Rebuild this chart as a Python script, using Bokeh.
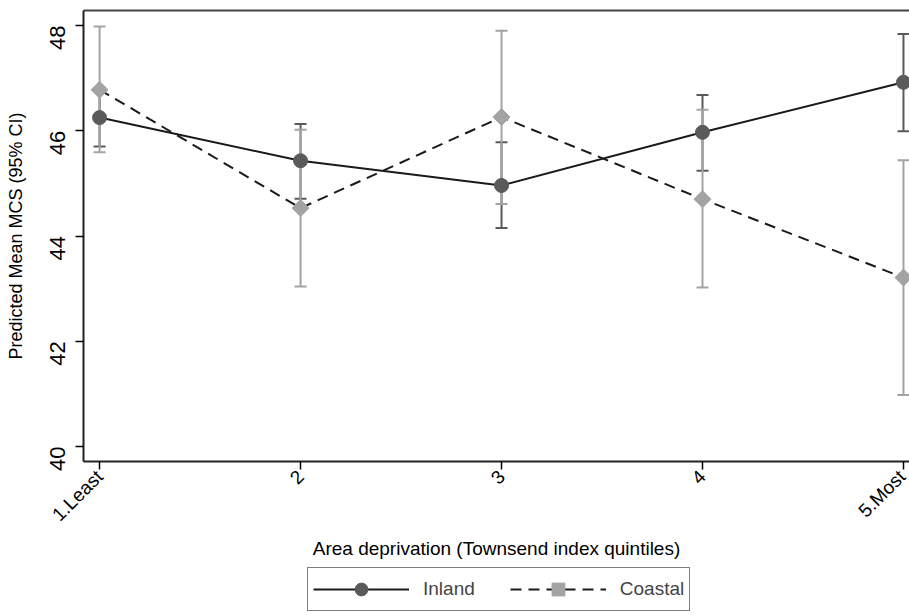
import math
from bokeh.plotting import figure
from bokeh.layouts import column
from bokeh.models import (ColumnDataSource, Whisker, TeeHead, FixedTicker, Range1d,
                          Legend, LegendItem, LinearAxis)
from bokeh.embed import file_html
from bokeh.resources import INLINE

quintiles = [1, 2, 3, 4, 5]
tick_labels = {1: "1.Least", 2: "2", 3: "3", 4: "4", 5: "5.Most"}

inland_mean = [46.25, 45.43, 44.96, 45.97, 46.92]
inland_lo = [45.70, 44.71, 44.15, 45.24, 45.99]
inland_hi = [46.80, 46.13, 45.78, 46.68, 47.84]

coastal_mean = [46.78, 44.53, 46.26, 44.70, 43.21]
coastal_lo = [45.59, 43.04, 44.61, 43.02, 40.98]
coastal_hi = [47.98, 46.02, 47.90, 46.40, 45.44]

series_names = ["Inland", "Coastal"]

FONT = "Liberation Sans"
DARK = "#5a5a5a"
LIGHT = "#a3a3a3"
LINE = "#1a1a1a"
DASH = "11 7"

src_in = ColumnDataSource(dict(x=quintiles, y=inland_mean, lo=inland_lo, hi=inland_hi))
src_co = ColumnDataSource(dict(x=quintiles, y=coastal_mean, lo=coastal_lo, hi=coastal_hi))

p = figure(frame_width=826, frame_height=451, output_backend="svg", toolbar_location=None,
           x_range=Range1d(0.92, 5.03), y_range=Range1d(39.715, 48.285),
           min_border_left=83, min_border_right=0, min_border_top=10, min_border_bottom=0)
p.outline_line_color = None
p.grid.visible = False
p.background_fill_color = "white"
p.border_fill_color = "white"

# CIs
for src, col in ((src_in, DARK), (src_co, LIGHT)):
    w = Whisker(source=src, base="x", lower="lo", upper="hi", line_color=col, line_width=2,
                upper_head=TeeHead(size=12, line_color=col, line_width=2),
                lower_head=TeeHead(size=12, line_color=col, line_width=2))
    p.add_layout(w)

p.line("x", "y", source=src_in, line_color=LINE, line_width=2)
p.line("x", "y", source=src_co, line_color=LINE, line_width=2, line_dash=DASH)
p.scatter("x", "y", source=src_in, marker="circle", size=14, fill_color=DARK, line_color=DARK)
p.scatter("x", "y", source=src_co, marker="square", angle=math.pi / 4, size=12,
          fill_color=LIGHT, line_color=LIGHT)

# axes
xa = p.xaxis[0]
xa.ticker = FixedTicker(ticks=quintiles)
xa.major_label_overrides = tick_labels
xa.major_label_orientation = math.pi / 4
xa.major_label_text_font = FONT
xa.major_label_text_font_size = "19px"
xa.major_label_text_color = "black"
xa.major_label_standoff = 4
xa.axis_label = "Area deprivation (Townsend index quintiles)"
xa.axis_label_text_font = FONT
xa.axis_label_text_font_size = "19px"
xa.axis_label_text_font_style = "normal"
xa.axis_label_text_color = "black"
xa.axis_label_standoff = 3
xa.minor_tick_line_color = None
xa.major_tick_in = 0
xa.major_tick_out = 8
xa.axis_line_width = 2
xa.major_tick_line_width = 1.5
xa.axis_line_color = "#222222"

ya = p.yaxis[0]
ya.ticker = FixedTicker(ticks=[40, 42, 44, 46, 48])
ya.major_label_orientation = math.pi / 2
ya.major_label_text_font = FONT
ya.major_label_text_font_size = "22px"
ya.major_label_text_color = "black"
ya.major_label_standoff = 18
ya.axis_label = "Predicted Mean MCS (95% CI)"
ya.axis_label_text_font = FONT
ya.axis_label_text_font_size = "18px"
ya.axis_label_text_font_style = "normal"
ya.axis_label_text_color = "black"
ya.axis_label_standoff = 14
ya.minor_tick_line_color = None
ya.major_tick_in = 0
ya.major_tick_out = 8
ya.axis_line_width = 2
ya.major_tick_line_width = 1.5
ya.axis_line_color = "#222222"

top = LinearAxis(ticker=FixedTicker(ticks=[]), major_tick_out=0, major_tick_in=0,
                 minor_tick_line_color=None, major_label_text_font_size="0px",
                 axis_line_width=2, axis_line_color="#444444")
p.add_layout(top, "above")

# legend strip below the plot (its renderers use the same data, out of this strip's view)
lf = figure(frame_width=826, height=51, output_backend="svg", toolbar_location=None,
            x_range=Range1d(0, 1), y_range=Range1d(0, 1),
            min_border_left=83, min_border_right=0, min_border_top=0, min_border_bottom=0)
lf.axis.visible = False
lf.grid.visible = False
lf.outline_line_color = None
lf.border_fill_color = "white"
e_l1 = lf.line("x", "y", source=src_in, line_color=LINE, line_width=2)
e_m1 = lf.scatter("x", "y", source=src_in, marker="circle", size=14, fill_color=DARK, line_color=DARK)
e_l2 = lf.line("x", "y", source=src_co, line_color=LINE, line_width=2, line_dash=DASH)
e_m2 = lf.scatter("x", "y", source=src_co, marker="square", angle=math.pi / 4, size=12,
                  fill_color=LIGHT, line_color=LIGHT)
legend = Legend(items=[LegendItem(label=series_names[0], renderers=[e_l1, e_m1]),
                       LegendItem(label=series_names[1], renderers=[e_l2, e_m2])],
                orientation="horizontal", location=(224, 2),
                label_text_font=FONT, label_text_font_size="19px",
                glyph_width=96, glyph_height=32, spacing=35, padding=5,
                label_standoff=14, border_line_color="black", border_line_width=1.5,
                margin=0)
lf.add_layout(legend, "center")

layout = column(p, lf, spacing=0)
open("out.html", "w").write(file_html(layout, INLINE))
